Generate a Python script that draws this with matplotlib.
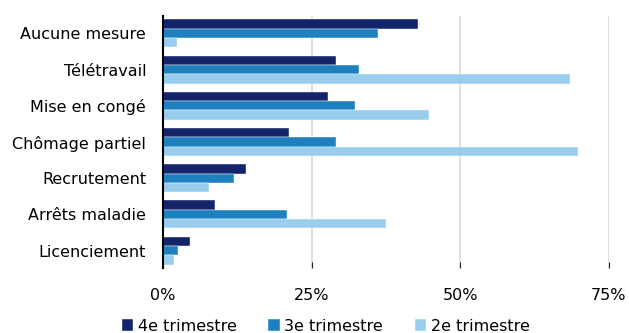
import numpy as np
import matplotlib.pyplot as plt
from matplotlib.ticker import PercentFormatter

categories = ["Aucune mesure", "Télétravail", "Mise en congé", "Chômage partiel",
              "Recrutement", "Arrêts maladie", "Licenciement"]
t4 = [42.9, 29.1, 27.8, 21.2, 13.9, 8.7, 4.6]
t3 = [36.1, 32.9, 32.3, 29.1, 12.0, 20.8, 2.5]
t2 = [2.4, 68.5, 44.7, 69.8, 7.8, 37.5, 1.8]
series = [("4e trimestre", t4, "#13246a"),
          ("3e trimestre", t3, "#1f80bf"),
          ("2e trimestre", t2, "#99cdee")]

plt.rcParams['font.family'] = ['DejaVu Sans']

fig = plt.figure(figsize=(6.29, 3.33), dpi=100)
ax = fig.add_axes([0.259, 0.195, 0.709, 0.757])

y = np.arange(len(categories))
h = 0.257
for i, (name, vals, col) in enumerate(series):
    ax.barh(y + (i - 1) * h, vals, height=h, color=col, label=name,
            edgecolor="white", linewidth=0.3, zorder=3)

ax.set_xlim(0, 75)
ax.set_ylim(6.48, -0.48)
ax.set_yticks(y)
ax.set_yticklabels(categories, fontsize=11.5)
ax.set_xticks([0, 25, 50, 75])
ax.xaxis.set_major_formatter(PercentFormatter(decimals=0))
ax.tick_params(axis="x", labelsize=11.5, direction="in", length=4, pad=14, color="#222222")
ax.tick_params(axis="y", length=0, pad=12)
ax.grid(axis="x", color="#d9d9d9", linewidth=1.2, zorder=0)
for s in ["top", "right", "bottom"]:
    ax.spines[s].set_visible(False)
ax.spines["left"].set_linewidth(1.5)
ax.spines["left"].set_zorder(4)

fig.legend(loc="lower center", bbox_to_anchor=(0.518, -0.045), ncol=3, frameon=False,
           fontsize=11.5, handlelength=0.7, handleheight=0.7, handletextpad=0.3,
           columnspacing=2.0)

fig.savefig("out.png", dpi=100)
